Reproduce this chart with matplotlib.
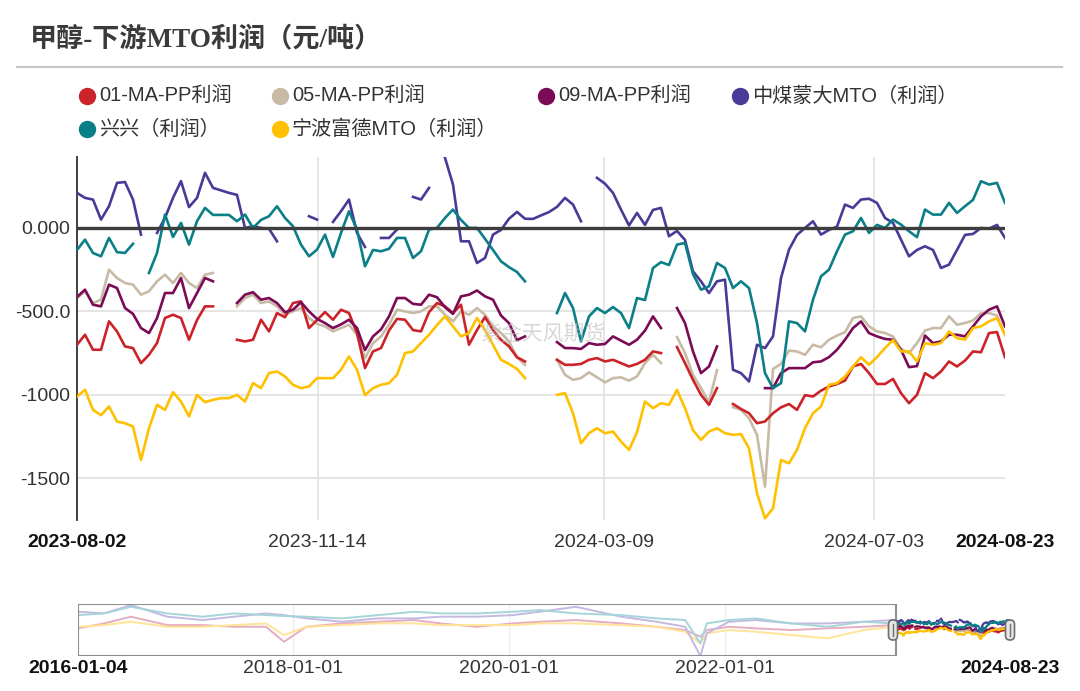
import numpy as np
import pandas as pd
import matplotlib
matplotlib.use("Agg")
import matplotlib.pyplot as plt
import matplotlib.dates as mdates
from matplotlib.lines import Line2D
from matplotlib.patches import Rectangle, FancyBboxPatch

plt.rcParams['font.family'] = ['Liberation Sans', 'Noto Sans CJK SC', 'DejaVu Sans']

nan = np.nan

# ---- main window data (2023-08-02 .. 2024-08-23), one value per sample ----
ma01 = [-700, -640, -730, -730, -560, -620, -710, -720, -810, -760,
        -690, -540, -520, -540, -670, -552, -470, -470, nan, nan,
        -670, -680, -670, -550, -620, -510, -535, -450, -440, -600,
        -552, -504, -550, -490, -510, -630, -840, -740, -720, -615,
        -545, -550, -612, -620, -505, -450, -470, -510, -460, -700,
        -612, -534, -612, -670, -710, -775, -800, nan, nan, nan,
        -790, -820, -820, -815, -790, -780, -800, -790, -810, -830,
        -815, -790, -740, -750, nan, -714, -810, -910, -1000, -1060,
        -960, nan, -1055, -1085, -1110, -1170, -1160, -1110, -1075, -1055,
        -1090, -1002, -1010, -975, -950, -935, -915, -830, -815, -870,
        -935, -935, -905, -990, -1050, -1000, -870, -900, -860, -800,
        -830, -795, -740, -745, -630, -624, -775]

ma05 = [-420, -380, -450, -430, -250, -300, -330, -340, -400, -380,
        -320, -280, -330, -270, -330, -360, -280, -270, nan, nan,
        -470, -420, -400, -450, -440, -470, -520, -500, -480, -540,
        -575, -590, -620, -600, -580, -640, -780, -690, -650, -580,
        -490, -500, -510, -500, -470, -470, -520, -560, -500, -520,
        -480, -520, -590, -630, -680, -775, -820, nan, nan, nan,
        -790, -880, -910, -900, -865, -895, -925, -900, -895, -915,
        -890, -810, -760, -810, nan, -654, -750, -880, -960, -1045,
        -852, nan, -1074, -1090, -1140, -1240, -1550, -845, -815, -735,
        -740, -760, -700, -715, -670, -645, -625, -540, -530, -590,
        -620, -630, -650, -725, -750, -690, -615, -600, -600, -530,
        -580, -570, -555, -510, -510, -525, -640]

ma09 = [-414, -370, -460, -470, -340, -360, -480, -515, -600, -630,
        -540, -390, -390, -300, -480, -390, -300, -320, nan, nan,
        -450, -400, -385, -430, -420, -450, -505, -490, -445, -500,
        -545, -570, -600, -578, -550, -600, -732, -650, -608, -530,
        -420, -420, -455, -460, -400, -415, -475, -515, -410, -400,
        -375, -410, -430, -525, -570, -672, -650, nan, nan, nan,
        -684, -720, -720, -725, -690, -700, -695, -650, -675, -700,
        -670, -615, -530, -600, nan, -480, -570, -740, -870, -830,
        -710, nan, nan, nan, nan, nan, -960, -960, -870, -840,
        -840, -840, -805, -800, -774, -730, -670, -600, -560, -630,
        -650, -665, -670, -730, -834, -828, -645, -690, -680, -640,
        -640, -650, -590, -530, -490, -470, -590]

zmmd_mto = [210, 180, 170, 50, 130, 270, 275, 170, -40, nan,
            -30, 60, 180, 280, 125, 180, 330, 240, 225, 210,
            198, 0, 10, 0, -5, -80, nan, nan, nan, 70,
            50, nan, 36, 100, 170, -30, -114, nan, -60, -60,
            -10, nan, 186, 170, 240, nan, 420, 260, -80, -80,
            -210, -180, -40, -12, 55, 96, 55, 54, 75, 95,
            126, 180, 140, 40, nan, 300, 265, 210, 110, 15,
            90, 18, 108, 120, -50, -18, -72, -260, -320, -390,
            -320, -310, -850, -870, -920, -700, -720, -650, -300, -130,
            -42, 0, 40, -40, -12, 8, 140, 120, 170, 175,
            150, 60, 30, -70, -170, -132, -110, -132, -240, -220,
            -132, -42, -36, 0, -5, 18, -60]

xingxing = [-132, -70, -150, -170, -60, -145, -150, -95, nan, -270,
            -150, 80, -54, 30, -100, 40, 120, 78, 78, 78,
            40, 80, 0, 48, 70, 130, 60, 10, -100, -170,
            -130, -40, -174, -30, 100, -10, -230, -132, -140, -125,
            -60, -60, -180, -140, -10, 0, 60, 110, 48, 0,
            0, -65, -132, -200, -235, -264, -320, nan, nan, nan,
            -510, -390, -480, -680, -530, -480, -510, -474, -510, -600,
            -420, -432, -240, -205, -222, -100, -90, -276, -370, -350,
            -210, -240, -360, -320, -360, -570, -870, -960, -930, -560,
            -570, -620, -430, -290, -250, -140, -40, -20, 60, -30,
            18, 0, 50, 20, -20, -55, 110, 80, 80, 150,
            90, 130, 168, 280, 260, 270, 150]

ningbo_mto = [-1010, -970, -1090, -1122, -1070, -1160, -1170, -1190, -1390, -1200,
              -1060, -1090, -984, -1040, -1130, -1000, -1044, -1030, -1020, -1020,
              -1000, -1040, -930, -960, -870, -860, -890, -940, -960, -950,
              -900, -900, -900, -850, -770, -850, -1002, -960, -940, -930,
              -880, -750, -740, -690, -640, -582, -530, -590, -650, -630,
              -540, -612, -700, -790, -815, -845, -900, nan, nan, nan,
              -1000, -990, -1110, -1290, -1230, -1200, -1230, -1220, -1280, -1330,
              -1224, -1040, -1080, -1050, -1060, -970, -1080, -1212, -1270, -1220,
              -1200, -1230, -1240, -1235, -1320, -1590, -1740, -1680, -1390, -1410,
              -1330, -1200, -1110, -1070, -940, -930, -890, -830, -775, -820,
              -774, -720, -672, -740, -740, -800, -690, -700, -690, -620,
              -660, -670, -600, -590, -560, -540, -640]

labels = ['01-MA-PP利润', '05-MA-PP利润', '09-MA-PP利润',
          '中煤蒙大MTO（利润）', '兴兴（利润）', '宁波富德MTO（利润）']
colors = ['#cc2229', '#c8bba6', '#7b0b54', '#4a3a97', '#0a7f87', '#ffc000']

xtick_labels = ['2023-08-02', '2023-11-14', '2024-03-09', '2024-07-03', '2024-08-23']
yticks = [0, -500, -1000, -1500]
ytick_labels = ['0.000', '-500.0', '-1000', '-1500']

# ---- navigator history (2016 .. 2023), coarse faded lines ----
hist_dates = ['2016-01-04', '2016-04-01', '2016-07-01', '2016-11-01', '2017-03-01', '2017-06-15',
              '2017-10-01', '2017-12-01', '2018-02-15', '2018-06-15', '2018-10-15', '2019-02-15',
              '2019-05-15', '2019-09-15', '2020-01-15', '2020-04-15', '2020-08-15', '2021-01-15',
              '2021-05-15', '2021-08-20', '2021-10-10', '2021-11-01', '2022-01-15', '2022-04-15',
              '2022-08-15', '2022-12-15', '2023-04-15', '2023-07-25']
hist_teal = [810, 990, 1700, 990, 640, 990, 810, 710, 640, 460, 810, 1170, 990, 990,
             1170, 1350, 990, 810, 460, 280, -2220, -80, 280, 460, -80, -440, 100, -80]
hist_purple = [1170, 990, 1880, 640, 280, 640, 990, 810, 460, 100, 460, 460, 640, 640,
               810, 1170, 1700, 640, 100, -440, -3600, -1150, 100, 280, -80, -80, 100, 280]
hist_yellow = [-440, -260, 100, -440, -440, -260, -80, -1330, -440, -260, -80, -80, -260, -260,
               -260, -80, -80, -260, -440, -970, -2220, -1150, -790, -970, -1330, -1680, -790, -440]
hist_pink = [-610, -80, 640, -260, -260, -440, -440, -2040, -440, -80, 100, 280, -80, -440,
             -80, 100, 280, -80, -440, -790, -1500, -790, -440, -610, -790, -610, -440, -260]
nav_tick_dates = ['2016-01-04', '2018-01-01', '2020-01-01', '2022-01-01', '2024-08-23']

W, H = 1080, 691
fig = plt.figure(figsize=(W / 100, H / 100), dpi=100)

# title + separator
fig.text(30 / W, 1 - 40 / H, '甲醇-下游MTO利润（元/吨）', fontsize=19.5, fontweight='bold',
         color='#3a3a3a', va='center', ha='left',
         family=['Liberation Serif', 'Noto Sans CJK SC'])
fig.add_artist(Line2D([17 / W, 1062 / W], [1 - 67 / H, 1 - 67 / H], color='#c8c8c8', lw=1.6))

# legend, laid out by hand in two rows like the original
leg_cols = [87, 280, 546, 740]
leg_rows = [96, 129]
order = [(0, 0, 0), (1, 1, 0), (2, 2, 0), (3, 3, 0), (4, 0, 1), (5, 1, 1)]
for i, c, r in order:
    lx, ly = leg_cols[c], leg_rows[r]
    fig.add_artist(Line2D([lx / W], [1 - ly / H], ls='none', marker='o', ms=11.5,
                          color=colors[i]))
    fig.text((lx + 12) / W, 1 - ly / H, labels[i], fontsize=14.5, color='#333333',
             va='center', ha='left')

# main axes
ax = fig.add_axes([77 / W, 1 - 520 / H, (1005 - 77) / W, (520 - 157) / H])
x = np.arange(len(ma01))
series = [ma01, ma05, ma09, zmmd_mto, xingxing, ningbo_mto]
zord = [3, 2, 3, 3, 3, 3]
for s, c, z in zip(series, colors, zord):
    ax.plot(x, np.array(s, dtype=float), color=c, lw=1.9, zorder=z)

n = len(ma01) - 1
xtick_pos = [0, 30.1, 65.9, 99.6, n]
ax.set_xlim(0, n)
ax.set_ylim(-1750, 425)
ax.axhline(0, color='#3d3d3d', lw=2.4, zorder=5)
for yv in yticks[1:]:
    ax.axhline(yv, color='#e3e3e3', lw=1.3, zorder=0)
for p in xtick_pos[1:-1]:
    ax.axvline(p, color='#e3e3e3', lw=1.3, zorder=0)
for sp in ['top', 'right', 'bottom']:
    ax.spines[sp].set_visible(False)
ax.spines['left'].set_color('#333333')
ax.spines['left'].set_linewidth(1.3)
ax.set_yticks(yticks)
ax.set_yticklabels(ytick_labels)
ax.set_xticks(xtick_pos)
ax.set_xticklabels(xtick_labels)
ax.tick_params(length=0, labelsize=14, labelcolor='#333333')
ax.tick_params(axis='x', pad=10)
ax.tick_params(axis='y', pad=5)
for t in (ax.get_xticklabels()[0], ax.get_xticklabels()[-1]):
    t.set_fontweight('bold')
    t.set_color('#111111')

fig.text(543 / W, 1 - 334 / H, '紫金天风期货', fontsize=15, color='#bdbdbd', alpha=0.6,
         ha='center', va='center', family=['Noto Sans CJK SC'])

# navigator
nav = fig.add_axes([78 / W, 1 - 656 / H, 932 / W, 52 / H])
d0 = mdates.date2num(pd.Timestamp('2016-01-04'))
d1 = mdates.date2num(pd.Timestamp('2024-08-23'))
ds = mdates.date2num(pd.Timestamp('2023-08-02'))
nav.set_xlim(d0, d1)
nav.set_ylim(-3570, 2000)
hx = mdates.date2num(pd.to_datetime(hist_dates))
for s, c in [(hist_pink, '#e6adc0'), (hist_yellow, '#ffe396'),
             (hist_purple, '#c4b9e0'), (hist_teal, '#a6d5d9')]:
    nav.plot(hx, s, color=c, lw=1.4)
wx = np.linspace(ds, d1, len(ma01))
for s, c in zip(series, colors):
    nav.plot(wx, np.array(s, dtype=float), color=c, lw=1.6)
for d in nav_tick_dates[1:-1]:
    nav.axvline(mdates.date2num(pd.Timestamp(d)), color='#efefef', lw=1, zorder=0)
nav.add_patch(Rectangle((d0, 0), ds - d0, 1, transform=nav.get_xaxis_transform(),
                        fill=False, ec='#8e8e8e', lw=1.5, zorder=6))
for px in (893, 1010):
    fig.add_artist(FancyBboxPatch(((px - 4.5) / W, 1 - 640 / H), 9 / W, 20 / H,
                                  boxstyle='round,pad=0,rounding_size=0.004',
                                  mutation_aspect=W / H, transform=fig.transFigure,
                                  fc='#e6e6e6', ec='#6e6e6e', lw=1.2, zorder=10))
    fig.add_artist(Line2D([px / W, px / W], [1 - 636 / H, 1 - 624 / H],
                          color='#6e6e6e', lw=1, zorder=11))
for sp in nav.spines.values():
    sp.set_visible(False)
nav.set_yticks([])
nav.set_xticks(mdates.date2num(pd.to_datetime(nav_tick_dates)))
nav.set_xticklabels(nav_tick_dates)
nav.tick_params(length=0, labelsize=14, labelcolor='#333333', pad=3)
for t in (nav.get_xticklabels()[0], nav.get_xticklabels()[-1]):
    t.set_fontweight('bold')
    t.set_color('#111111')

fig.savefig('out.png', dpi=100)
